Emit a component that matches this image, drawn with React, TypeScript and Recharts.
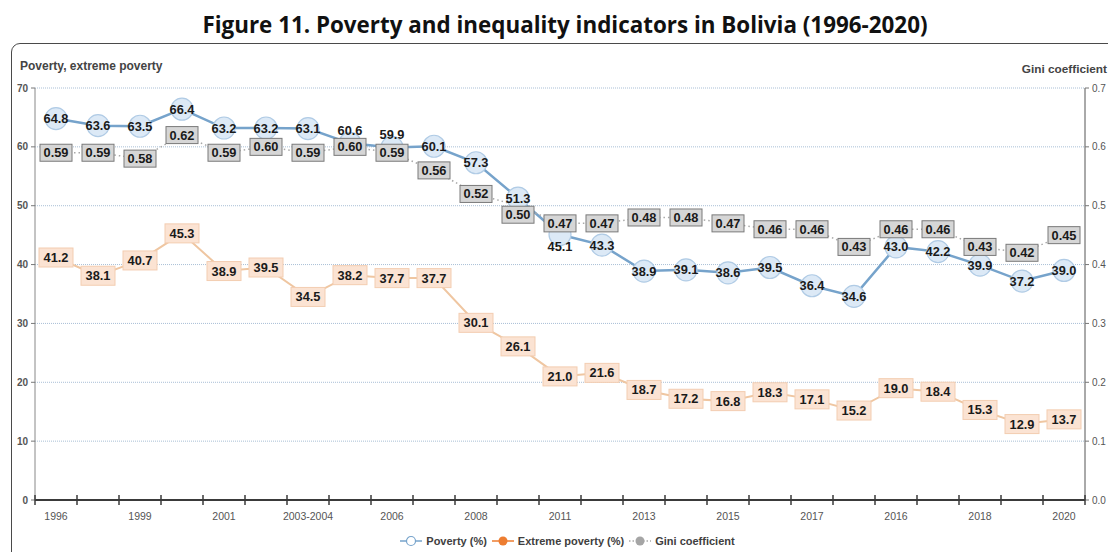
import React from "react";
import {
  LineChart,
  Line,
  XAxis,
  YAxis,
  CartesianGrid,
  LabelList,
  Legend,
} from "recharts";

// Survey rounds shown on the category axis (only every other label is printed)
const years = [
  "1996", "1997", "1999", "2000", "2001", "2002", "2003-2004", "2005", "2006",
  "2007", "2008", "2009", "2011", "2012", "2013", "2014", "2015", "2016",
  "2017", "2018", "2016", "2017", "2018", "2019", "2020",
];

const poverty = [
  64.8, 63.6, 63.5, 66.4, 63.2, 63.2, 63.1, 60.6, 59.9, 60.1, 57.3, 51.3, 45.1,
  43.3, 38.9, 39.1, 38.6, 39.5, 36.4, 34.6, 43.0, 42.2, 39.9, 37.2, 39.0,
];

const extremePoverty = [
  41.2, 38.1, 40.7, 45.3, 38.9, 39.5, 34.5, 38.2, 37.7, 37.7, 30.1, 26.1, 21.0,
  21.6, 18.7, 17.2, 16.8, 18.3, 17.1, 15.2, 19.0, 18.4, 15.3, 12.9, 13.7,
];

const gini = [
  0.59, 0.59, 0.58, 0.62, 0.59, 0.6, 0.59, 0.6, 0.59, 0.56, 0.52, 0.5, 0.47,
  0.47, 0.48, 0.48, 0.47, 0.46, 0.46, 0.43, 0.46, 0.46, 0.43, 0.42, 0.45,
];

const leftTicks = [0, 10, 20, 30, 40, 50, 60, 70];
const rightTicks = [0, 0.1, 0.2, 0.3, 0.4, 0.5, 0.6, 0.7];
const LEFT_MAX = 70;
const RIGHT_MAX = 0.7;

const data = years.map((year, i) => ({
  idx: i,
  year,
  poverty: poverty[i],
  extreme: extremePoverty[i],
  gini: gini[i],
}));

const WIDTH = 1108;
const HEIGHT = 552;
const PLOT_LEFT = 35;
const PLOT_RIGHT = 1085;
const PLOT_TOP = 88;
const PLOT_BOTTOM = 500;
const BAND = (PLOT_RIGHT - PLOT_LEFT) / years.length;

const FONT = "'Liberation Sans', Arial, sans-serif";
const LABEL_FONT = 12.8;

const POV_LINE = "#76a3cb";
const POV_FILL = "#dce9f6";
const POV_EDGE = "#b0cbe5";
const EXT_LINE = "#efc6a1";
const EXT_FILL = "#fbe3d3";
const EXT_EDGE = "#f3cdb1";
const GINI_LINE = "#a8a8a8";
const GINI_FILL = "#d6d6d6";
const GINI_EDGE = "#7a7a7a";

// vertical pixel gap between the Gini box and the poverty label at the same round,
// used only to nudge labels apart where they would sit on top of each other
const plotH = PLOT_BOTTOM - PLOT_TOP;
function labelGap(i: number) {
  const povY = PLOT_TOP + (1 - poverty[i] / LEFT_MAX) * plotH;
  const giniY = PLOT_TOP + (1 - gini[i] / RIGHT_MAX) * plotH;
  return giniY - povY;
}

function PovertyLabel(props: any) {
  const { x, y, value, index } = props;
  const gap = labelGap(index);
  let shift = 0;
  if (gap >= 0 && gap < 6) shift = -13;
  else if (gap < 0 && gap > -12) shift = 12;
  return (
    <text
      x={x}
      y={y + shift}
      dy={4.5}
      textAnchor="middle"
      fontFamily={FONT}
      fontSize={LABEL_FONT}
      fontWeight={700}
      fill="#1a1a1a"
    >
      {Number(value).toFixed(1)}
    </text>
  );
}

function boxLabel(
  fill: string,
  edge: string,
  digits: number,
  w: number,
  h: number,
  nudge?: (i: number) => number
) {
  return function BoxLabel(props: any) {
    const { x, value, index } = props;
    const y = props.y + (nudge ? nudge(index) : 0);
    return (
      <g>
        <rect
          x={x - w / 2}
          y={y - h / 2}
          width={w}
          height={h}
          fill={fill}
          stroke={edge}
          strokeWidth={1}
        />
        <text
          x={x}
          y={y}
          dy={4.5}
          textAnchor="middle"
          fontFamily={FONT}
          fontSize={LABEL_FONT}
          fontWeight={700}
          fill="#1a1a1a"
        >
          {Number(value).toFixed(digits)}
        </text>
      </g>
    );
  };
}

const ExtremeLabel = boxLabel(EXT_FILL, EXT_EDGE, 1, 34, 19);
const GiniLabel = boxLabel(GINI_FILL, GINI_EDGE, 2, 32, 17, (i) => {
  const gap = labelGap(i);
  return gap >= 6 && gap < 10 ? 9 : 0;
});

function PovertyDot(props: any) {
  const { cx, cy } = props;
  return <circle cx={cx} cy={cy} r={11} fill={POV_FILL} stroke={POV_EDGE} strokeWidth={1.2} />;
}

// Year labels sit between boundary ticks that cross the axis line
function YearTick(props: any) {
  const { x, y, payload } = props;
  const i = Number(payload?.value);
  const last = i === years.length - 1;
  return (
    <g>
      <line x1={x - BAND / 2} x2={x - BAND / 2} y1={y - 5} y2={y + 5} stroke="#3a3a3a" strokeWidth={1.5} />
      {last && (
        <line x1={x + BAND / 2} x2={x + BAND / 2} y1={y - 5} y2={y + 5} stroke="#3a3a3a" strokeWidth={1.5} />
      )}
      {i % 2 === 0 && (
        <text x={x} y={y + 20} textAnchor="middle" fontFamily={FONT} fontSize={10.5} fill="#555">
          {years[i]}
        </text>
      )}
    </g>
  );
}

function LegendContent() {
  const item = (key: string, label: string, icon: React.ReactNode) => (
    <span key={key} style={{ display: "inline-flex", alignItems: "center", marginRight: 4 }}>
      <svg width={24} height={12} style={{ marginRight: 3 }}>
        {icon}
      </svg>
      {label}
    </span>
  );
  return (
    <div
      style={{
        height: 18,
        display: "flex",
        justifyContent: "center",
        alignItems: "center",
        fontFamily: FONT,
        fontSize: 11,
        fontWeight: 700,
        color: "#404040",
        paddingLeft: 20,
      }}
    >
      {item(
        "p",
        "Poverty (%)",
        <>
          <line x1={1} x2={23} y1={6} y2={6} stroke={POV_LINE} strokeWidth={1.5} />
          <circle cx={12} cy={6} r={4.5} fill="#fff" stroke={POV_LINE} strokeWidth={1.2} />
        </>
      )}
      {item(
        "e",
        "Extreme poverty (%)",
        <>
          <line x1={1} x2={23} y1={6} y2={6} stroke="#ed7d31" strokeWidth={1.5} />
          <circle cx={12} cy={6} r={4.5} fill="#ed7d31" />
        </>
      )}
      {item(
        "g",
        "Gini coefficient",
        <>
          <line x1={1} x2={23} y1={6} y2={6} stroke={GINI_LINE} strokeWidth={1.5} strokeDasharray="1.5 2" />
          <circle cx={12} cy={6} r={4.5} fill="#a5a5a5" />
        </>
      )}
    </div>
  );
}

export default function App() {
  return (
    <div
      style={{
        position: "absolute",
        left: 0,
        top: 0,
        width: WIDTH,
        height: HEIGHT,
        overflow: "hidden",
        background: "#fff",
      }}
    >
      <div
        style={{
          position: "absolute",
          left: 0,
          width: WIDTH,
          top: 9,
          textAlign: "center",
          fontFamily: "'Open Sans', 'Liberation Sans', sans-serif",
          fontWeight: 700,
          fontSize: 22.4,
          color: "#111",
          paddingLeft: 22,
          boxSizing: "border-box",
          whiteSpace: "nowrap",
        }}
      >
        Figure 11. Poverty and inequality indicators in Bolivia (1996-2020)
      </div>
      <div
        style={{
          position: "absolute",
          left: 11,
          top: 43,
          width: 1120,
          height: 540,
          border: "1.5px solid #4a4a4a",
          borderRadius: 9,
        }}
      />
      <div
        style={{
          position: "absolute",
          left: 20,
          top: 59,
          fontFamily: FONT,
          fontWeight: 700,
          fontSize: 12,
          color: "#444",
        }}
      >
        Poverty, extreme poverty
      </div>
      <div
        style={{
          position: "absolute",
          right: 1,
          top: 62,
          fontFamily: FONT,
          fontWeight: 700,
          fontSize: 11.8,
          color: "#444",
        }}
      >
        Gini coefficient
      </div>
      <LineChart
        width={WIDTH}
        height={HEIGHT}
        data={data}
        margin={{ top: PLOT_TOP, right: 0, left: 10, bottom: 2 }}
        style={{ position: "absolute", left: 0, top: 0 }}
      >
        <CartesianGrid
          yAxisId="left"
          vertical={false}
          stroke="#a9bfd6"
          strokeDasharray="1 1"
          strokeWidth={1}
        />
        <XAxis
          dataKey="idx"
          type="category"
          interval={0}
          height={32}
          padding={{ left: BAND / 2, right: BAND / 2 }}
          tickLine={false}
          tickSize={0}
          tickMargin={0}
          axisLine={{ stroke: "#3a3a3a", strokeWidth: 1.8 }}
          tick={<YearTick />}
        />
        <YAxis
          yAxisId="left"
          domain={[0, LEFT_MAX]}
          ticks={leftTicks}
          width={25}
          tickSize={4}
          tickMargin={3}
          tickLine={{ stroke: "#777" }}
          axisLine={{ stroke: "#888" }}
          tick={{ fontFamily: FONT, fontSize: 10, fontWeight: 700, fill: "#555" }}
        />
        <YAxis
          yAxisId="right"
          orientation="right"
          domain={[0, RIGHT_MAX]}
          ticks={rightTicks}
          width={23}
          tickSize={4}
          tickMargin={3}
          tickLine={{ stroke: "#777" }}
          axisLine={{ stroke: "#555" }}
          tickFormatter={(v: number) => v.toFixed(1)}
          tick={{ fontFamily: FONT, fontSize: 10, fill: "#555" }}
        />
        <Legend verticalAlign="bottom" height={18} content={<LegendContent />} />
        <Line
          yAxisId="left"
          dataKey="extreme"
          name="Extreme poverty (%)"
          stroke={EXT_LINE}
          strokeWidth={2}
          dot={false}
          isAnimationActive={false}
        >
          <LabelList dataKey="extreme" content={<ExtremeLabel />} />
        </Line>
        <Line
          yAxisId="left"
          dataKey="poverty"
          name="Poverty (%)"
          stroke={POV_LINE}
          strokeWidth={2.5}
          dot={<PovertyDot />}
          isAnimationActive={false}
        >
          <LabelList dataKey="poverty" content={<PovertyLabel />} />
        </Line>
        <Line
          yAxisId="right"
          dataKey="gini"
          name="Gini coefficient"
          stroke={GINI_LINE}
          strokeWidth={1.5}
          strokeDasharray="1.5 3"
          dot={false}
          isAnimationActive={false}
        >
          <LabelList dataKey="gini" content={<GiniLabel />} />
        </Line>
      </LineChart>
    </div>
  );
}
